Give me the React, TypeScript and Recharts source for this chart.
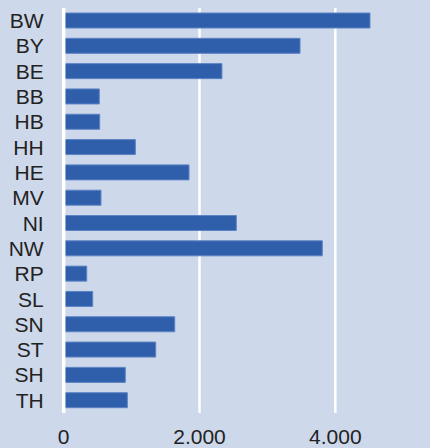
import { BarChart, Bar, XAxis, YAxis, CartesianGrid, ReferenceLine } from "recharts";

// Länder codes, top to bottom
const states = ["BW", "BY", "BE", "BB", "HB", "HH", "HE", "MV", "NI", "NW", "RP", "SL", "SN", "ST", "SH", "TH"];
const values = [4510, 3480, 2330, 524, 530, 1055, 1845, 549, 2542, 3808, 339, 427, 1635, 1355, 907, 937];
const xTicks = [0, 2000, 4000];

const data = states.map((s, i) => ({ state: s, value: values[i] }));

const fmt = (v: number) => v.toLocaleString("de-DE");

const font = { fontFamily: "'Liberation Sans', Arial, sans-serif", fontSize: 21, fill: "#222" };

export default function App() {
  return (
    <div style={{ position: "absolute", left: 0, top: 0, width: 430, height: 448, background: "#CDD8EA" }}>
      <BarChart
        width={430}
        height={448}
        data={data}
        layout="vertical"
        margin={{ top: 8, right: 0, left: 0, bottom: 0 }}
      >
        <CartesianGrid horizontal={false} verticalValues={[2000, 4000]} stroke="#FFFFFF" strokeWidth={2.5} />
        <XAxis
          type="number"
          domain={[0, 5394]}
          ticks={xTicks}
          tickFormatter={fmt}
          axisLine={false}
          tickLine={false}
          tickSize={0}
          tickMargin={16}
          height={35}
          tick={font}
        />
        <YAxis
          type="category"
          dataKey="state"
          width={63.7}
          axisLine={false}
          tickLine={false}
          tickSize={0}
          tickMargin={20}
          tick={font}
          interval={0}
        />
        <Bar dataKey="value" barSize={15} fill="#2F5FAA" stroke="#5C83C4" strokeWidth={1} isAnimationActive={false} />
        <ReferenceLine x={0} stroke="#FFFFFF" strokeWidth={3.5} />
      </BarChart>
    </div>
  );
}
